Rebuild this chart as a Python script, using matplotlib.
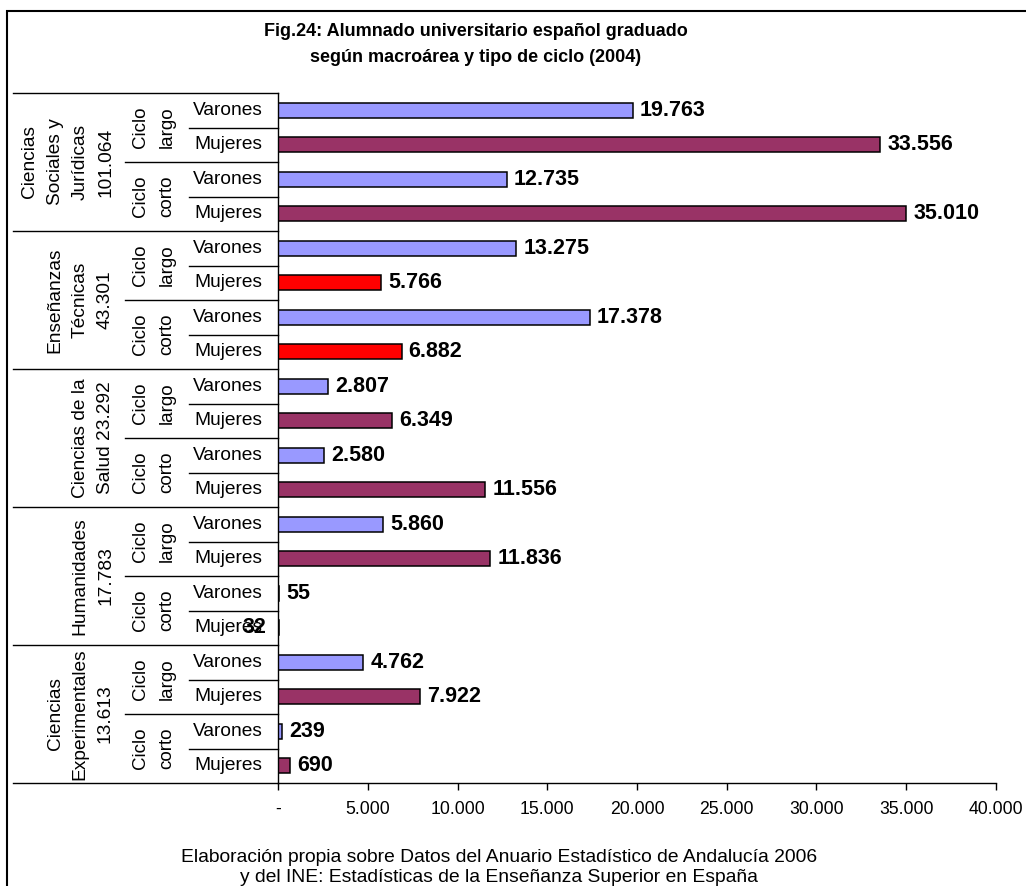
import matplotlib
matplotlib.use("Agg")
import matplotlib.pyplot as plt
import matplotlib.transforms as mtransforms
from matplotlib.patches import Rectangle

plt.rcParams['font.family'] = ['Liberation Sans', 'DejaVu Sans']

# datos
macroareas = ["Ciencias\nSociales y\nJurídicas\n101.064",
              "Enseñanzas\nTécnicas\n43.301",
              "Ciencias de la\nSalud 23.292",
              "Humanidades\n17.783",
              "Ciencias\nExperimentales\n13.613"]
ciclos = ["Ciclo\nlargo", "Ciclo\ncorto"]
sexos = ["Varones", "Mujeres"]

csj = [19763, 33556, 12735, 35010]
et = [13275, 5766, 17378, 6882]
cs = [2807, 6349, 2580, 11556]
hum = [5860, 11836, 55, 32]
ce = [4762, 7922, 239, 690]
valores = csj + et + cs + hum + ce

c_var = '#9999FF'
c_muj = '#993366'
c_rojo = '#FF0000'

W, H = 1026, 886
fig = plt.figure(figsize=(W / 100, H / 100), dpi=100)

def fx(px):
    return px / W

def fy(py):
    return 1 - py / H

ax = fig.add_axes([fx(278), fy(783), fx(996) - fx(278), fy(93) - fy(783)])

n = len(valores)
ys = [i + 0.5 for i in range(n)]
colores = []
for i in range(n):
    if i % 2 == 0:
        colores.append(c_var)
    elif i // 4 == 1:
        colores.append(c_rojo)
    else:
        colores.append(c_muj)

ax.barh(ys, valores, height=0.44, color=colores, edgecolor='black', linewidth=1.1)
ax.set_ylim(n, 0)
ax.set_xlim(0, 40000)

for y, v in zip(ys, valores):
    txt = f"{v:,}".replace(',', '.')
    if v == 32:
        # Excel lo colocó sobre la etiqueta de la categoría
        ax.annotate(txt, (0, y), xytext=(-12, 0), textcoords='offset pixels',
                    ha='right', va='center', fontsize=15.5, fontweight='bold',
                    annotation_clip=False)
    else:
        ax.annotate(txt, (v, y), xytext=(7, 0), textcoords='offset pixels',
                    ha='left', va='center', fontsize=15.5, fontweight='bold')

ticks = list(range(0, 40001, 5000))
ax.set_xticks(ticks)
ax.set_xticklabels(['-' if t == 0 else f"{t:,}".replace(',', '.') for t in ticks],
                   fontsize=12.7)
ax.tick_params(axis='x', direction='out', length=5, width=1, pad=8)
ax.set_yticks([])
for s in ['top', 'right']:
    ax.spines[s].set_visible(False)
for s in ['left', 'bottom']:
    ax.spines[s].set_linewidth(1.0)

# cuadrícula de categorías a la izquierda
tr = mtransforms.blended_transform_factory(fig.transFigure, ax.transData)
for b in range(n + 1):
    if b % 4 == 0:
        x0 = fx(13)
    elif b % 2 == 0:
        x0 = fx(125)
    else:
        x0 = fx(189)
    ax.plot([x0, fx(278)], [b, b], transform=tr, color='black', lw=1.0,
            clip_on=False)

for i, s in enumerate(ys):
    ax.text(fx(228), s, sexos[i % 2], transform=tr, ha='center', va='center',
            fontsize=13.8)

for g in range(n // 2):
    ax.text(fx(154), 2 * g + 1, ciclos[g % 2], transform=tr, ha='center',
            va='center', rotation=90, fontsize=13.5, linespacing=1.7,
            multialignment='center')

for g, m in enumerate(macroareas):
    ax.text(fx(114), 4 * g + 2, m, transform=tr, ha='right', va='center',
            rotation=90, fontsize=13.8, linespacing=1.63, multialignment='center')

fig.text(fx(476), fy(31), "Fig.24: Alumnado universitario español graduado",
         ha='center', va='center', fontsize=13, fontweight='bold')
fig.text(fx(476), fy(57), "según macroárea y tipo de ciclo (2004)",
         ha='center', va='center', fontsize=13, fontweight='bold')

fig.text(fx(499), fy(857),
         "Elaboración propia sobre Datos del Anuario Estadístico de Andalucía 2006",
         ha='center', va='center', fontsize=13.9)
fig.text(fx(499), fy(877),
         "y del INE: Estadísticas de la Enseñanza Superior en España",
         ha='center', va='center', fontsize=13.9)

# borde del área del gráfico
fig.add_artist(Rectangle((fx(7), fy(900)), fx(1040) - fx(7), fy(11) - fy(900),
                         transform=fig.transFigure, fill=False,
                         edgecolor='black', lw=1.5, clip_on=False))

fig.savefig("out.png", dpi=100)
